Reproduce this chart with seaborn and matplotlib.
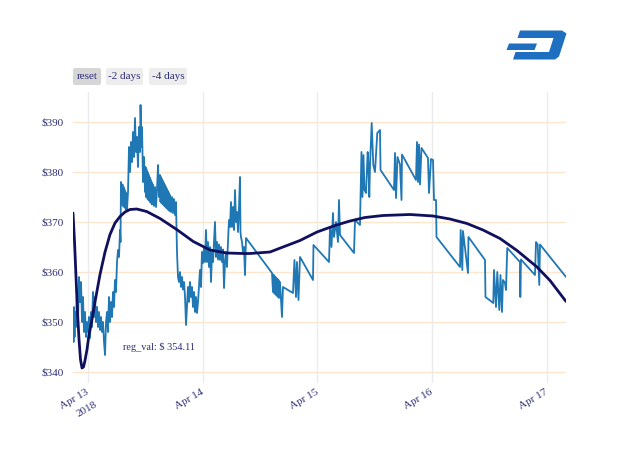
import numpy as np
import pandas as pd
import matplotlib
matplotlib.use("Agg")
import matplotlib.pyplot as plt
from matplotlib.patches import Polygon, FancyBboxPatch
import seaborn as sns

# ---------------- data ----------------
base_date = "2018-04-13"
# hours since 2018-04-13 00:00, DASH price (USD)
price_hours = [
    -3.14, -3.03, -2.93, -2.82, -2.72, -2.51, -2.30, -2.09, -1.88, -1.67,
    -1.46, -1.26, -1.05, -0.84, -0.63, -0.42, -0.21, 0.00, 0.21, 0.42,
    0.63, 0.84, 1.05, 1.26, 1.46, 1.67, 1.88, 2.09, 2.30, 2.51,
    2.72, 2.93, 3.14, 3.35, 3.56, 3.77, 3.98, 4.18, 4.39, 4.60,
    4.81, 5.02, 5.23, 5.44, 5.65, 5.86, 6.07, 6.28, 6.49, 6.70,
    6.80, 6.90, 7.11, 7.22, 7.32, 7.43, 7.53, 7.64, 7.74, 7.85,
    7.95, 8.06, 8.16, 8.37, 8.58, 8.79, 9.00, 9.21, 9.42, 9.63,
    9.83, 10.04, 10.25, 10.46, 10.67, 10.88, 10.99, 11.20, 11.30, 11.51,
    11.72, 11.93, 12.03, 12.14, 12.24, 12.35, 12.45, 12.55, 12.66, 12.76,
    12.87, 12.97, 13.08, 13.18, 13.29, 13.39, 13.60, 13.81, 14.02, 14.23,
    14.44, 14.65, 14.86, 15.07, 15.17, 15.28, 15.38, 15.49, 15.59, 15.69,
    15.80, 15.90, 16.01, 16.11, 16.22, 16.32, 16.43, 16.53, 16.64, 16.74,
    16.85, 16.95, 17.05, 17.16, 17.37, 17.58, 17.78, 17.99, 18.20, 18.41,
    18.62, 18.83, 19.04, 19.25, 19.46, 19.67, 19.88, 20.09, 20.30, 20.51,
    20.71, 20.92, 21.13, 21.34, 21.55, 21.76, 21.97, 22.18, 22.39, 22.60,
    22.81, 23.02, 23.22, 23.43, 23.64, 23.85, 24.06, 24.27, 24.48, 24.69,
    24.90, 25.11, 25.32, 25.53, 25.74, 25.95, 26.16, 26.36, 26.57, 26.78,
    26.99, 27.20, 27.41, 27.62, 27.83, 28.04, 28.25, 28.46, 28.67, 28.88,
    29.08, 29.29, 29.50, 29.71, 29.92, 30.13, 30.34, 30.55, 30.76, 30.97,
    31.18, 31.39, 31.60, 31.80, 31.91, 32.01, 32.22, 32.43, 32.64, 32.85,
    33.06, 38.50, 38.71, 38.81, 38.92, 39.02, 39.13, 39.23, 39.34, 39.44,
    39.55, 39.65, 39.76, 39.86, 39.97, 40.17, 40.38, 40.59, 40.80, 42.89,
    43.20, 43.52, 43.73, 44.04, 44.36, 47.08, 47.18, 50.43, 50.64, 50.95,
    51.26, 51.47, 51.89, 52.31, 52.52, 52.73, 55.66, 55.87, 56.91, 57.22,
    57.43, 57.64, 57.85, 58.17, 58.52, 58.69, 58.86, 59.01, 59.36, 59.70,
    60.05, 60.53, 61.10, 61.21, 64.03, 64.24, 64.45, 64.76, 65.28, 65.60,
    65.70, 68.63, 68.84, 69.05, 69.26, 69.47, 69.78, 71.14, 71.35, 71.77,
    72.19, 72.40, 72.82, 72.92, 77.84, 77.98, 78.32, 78.46, 79.51, 79.61,
    83.07, 83.17, 84.80, 84.95, 85.37, 85.64, 86.06, 86.31, 86.62, 86.83,
    87.25, 87.46, 87.73, 90.39, 90.46, 90.60, 93.53, 93.74, 94.09, 94.43,
    94.58, 100.02,
]
price_values = [
    351, 346, 353, 347, 352, 349, 356, 350, 359, 354,
    358, 350, 355, 348, 352, 347, 350, 348, 351, 346.8,
    352, 349, 356, 351, 355, 350, 353, 349, 352, 348.4,
    351, 348, 350, 346, 343.4, 350, 352, 348, 355, 350,
    354, 351, 356, 353, 358.4, 356, 362, 364.4, 363, 368.4,
    366, 378, 373.5, 377.5, 373.2, 377, 373, 376.5, 372.8, 376,
    372.5, 375.5, 372.4, 376, 385, 380, 386, 382, 388, 383,
    390.8, 384, 387, 381, 389, 384, 393.4, 385, 389, 378,
    383, 376, 381, 375, 380.5, 374.8, 380, 374.5, 379.5, 374.3,
    379, 374, 378.5, 373.8, 378, 373.5, 377.5, 373.2, 377, 373,
    376.5, 381.4, 375, 379.4, 374, 379, 373.8, 378.6, 373.6, 378.2,
    373.4, 377.8, 373.2, 377.4, 373, 377, 372.8, 376.6, 372.6, 376.2,
    372.4, 375.8, 372.2, 375.4, 372, 375, 371.8, 374.6, 371.4, 374,
    364, 359, 358, 360, 357, 359, 356.5, 358, 355, 349.4,
    353, 357, 354, 358, 355, 357, 353, 356, 352, 355,
    351.8, 354, 357, 360.4, 357, 364, 361.8, 365, 362, 368.4,
    362, 366, 361, 365, 358, 364, 362, 366, 370, 363,
    366, 362.5, 365.5, 362.4, 365, 362, 364.5, 356.8, 362, 364,
    361, 366, 370.4, 369, 374, 369, 373, 368.4, 376.4, 370,
    372, 368, 373, 379, 368, 367, 366, 364, 365, 359.4,
    366.8, 359.8, 356, 359.5, 355.8, 359.2, 355.6, 359, 355.4, 358.8,
    355.2, 358.6, 355, 358.4, 354.8, 358, 354.5, 351, 357, 355.8,
    362.4, 355, 362, 354.4, 363, 358.4, 365.4, 362, 369, 365,
    371.8, 367, 370, 366, 374.4, 367.4, 363.8, 370.4, 369.4, 384,
    375, 383.4, 376.4, 375.8, 384, 381, 375, 381.4, 389.8, 381.4,
    380, 387.8, 388.4, 380.4, 376.4, 383.8, 374.8, 383, 381.5, 374.4,
    383.5, 378.4, 386, 378, 385.5, 377.5, 384.8, 382.8, 375.8, 382.6,
    382.4, 374.4, 374.4, 367, 361, 368.4, 360.4, 368.2, 359.8, 367,
    362.4, 355, 353.8, 360.4, 353, 360, 352.4, 359.4, 352, 358.4,
    357.8, 356.4, 364.8, 362, 355, 362.5, 359.4, 366, 365.5, 357.4,
    365.5, 359,
]
# polynomial regression curve
reg_hours = [
    -3.14, -2.82, -2.51, -2.20, -1.88, -1.57, -1.26, -0.94, -0.63, -0.21,
    0.21, 0.73, 1.46, 2.51, 3.56, 4.60, 5.65, 6.70, 7.74, 8.79,
    10.19, 12.28, 15.07, 18.56, 22.03, 25.53, 29.02, 32.50, 33.90, 38.08,
    40.80, 44.36, 47.92, 51.68, 54.82, 57.96, 61.73, 67.38, 72.19, 75.74,
    79.30, 82.65, 86.21, 89.76, 93.95, 96.67, 100.02,
]
reg_values = [
    371.8, 366, 359, 352, 346.5, 342.5, 340.8, 341, 342.3, 344.5,
    347.5, 350, 354, 359.5, 364, 367.5, 369.8, 371.1, 372, 372.5,
    372.6, 372.1, 370.7, 368.5, 366.1, 364.4, 363.8, 363.7, 363.7, 364.0,
    365.0, 366.3, 368.0, 369.3, 370.2, 370.9, 371.3, 371.5, 371.2, 370.6,
    369.7, 368.4, 366.7, 364.3, 361.0, 358.3, 354.11,
]
reg_label = "reg_val: $ 354.11"
y_ticks = [340, 350, 360, 370, 380, 390]
y_labels = ["$340", "$350", "$360", "$370", "$380", "$390"]
x_tick_dates = ["2018-04-13", "2018-04-14", "2018-04-15", "2018-04-16", "2018-04-17"]
x_tick_labels = ["Apr 13", "Apr 14", "Apr 15", "Apr 16", "Apr 17"]
x_year_label = "2018"
buttons = ["reset", "-2 days", "-4 days"]

# ---------------- build frames ----------------
t0 = pd.Timestamp(base_date)
price_df = pd.DataFrame({
    "time": t0 + pd.to_timedelta(price_hours, unit="h"),
    "price": price_values,
})
reg_df = pd.DataFrame({
    "time": t0 + pd.to_timedelta(reg_hours, unit="h"),
    "reg": reg_values,
})

sns.set_style("white")
plt.rcParams["font.family"] = ["Liberation Serif", "DejaVu Serif"]
text_col = "#2e2e76"

W, H = 640, 457
fig = plt.figure(figsize=(W / 100, H / 100), dpi=100)
ax = fig.add_axes([73 / W, 1 - 383 / H, (566 - 73) / W, (383 - 92) / H])

sns.lineplot(data=price_df, x="time", y="price", ax=ax, color="#1f77b4",
             linewidth=1.3, sort=False, estimator=None)
sns.lineplot(data=reg_df, x="time", y="reg", ax=ax, color="#10105e",
             linewidth=2.0, sort=False, estimator=None)

ax.set_xlim(price_df["time"].iloc[0], price_df["time"].iloc[-1])
ax.set_ylim(337.8, 396)
ax.set_yticks(y_ticks)
ax.set_yticklabels(y_labels)
tick_dates = pd.to_datetime(x_tick_dates)
ax.set_xticks(tick_dates)
ax.set_xticklabels(x_tick_labels, rotation=30, ha="right", va="center",
                   rotation_mode="anchor")
ax.tick_params(axis="both", length=0, labelsize=8, colors=text_col)
ax.tick_params(axis="y", pad=7)
ax.tick_params(axis="x", pad=6)
ax.set_xlabel("")
ax.set_ylabel("")
for s in ax.spines.values():
    s.set_visible(False)
ax.grid(False)
for yv in y_ticks:
    ax.axhline(yv, color="#fde6cc", linewidth=1.0, zorder=0)
for xd in tick_dates:
    ax.axvline(xd, color="#ebebeb", linewidth=1.0, zorder=0)

# year line under the first date tick
ax.annotate(x_year_label, xy=(tick_dates[0], 0), xycoords=("data", "axes fraction"),
            xytext=(-0.5, -19.0), textcoords="offset points", rotation=30,
            ha="center", va="center", rotation_mode="anchor",
            fontsize=8, color=text_col, annotation_clip=False)

ax.text(t0 + pd.Timedelta(hours=14.86), 345.0, reg_label, fontsize=7.4,
        color=text_col, ha="center", va="center")

# ---------------- buttons ----------------
btn_boxes = [(73, 101), (106, 143), (149, 187)]
btn_colors = ["#d6d6d6", "#ededed", "#ededed"]
for label, (x0, x1), c in zip(buttons, btn_boxes, btn_colors):
    y0, y1 = 68, 85
    p = FancyBboxPatch((x0 / W, 1 - y1 / H), (x1 - x0) / W, (y1 - y0) / H,
                       boxstyle="round,pad=0,rounding_size=0.004",
                       transform=fig.transFigure, facecolor=c,
                       edgecolor="none")
    fig.add_artist(p)
    fig.text((x0 + x1) / 2 / W, 1 - (y0 + y1) / 2 / H, label, fontsize=8,
             color=text_col, ha="center", va="center")

# ---------------- logo ----------------
def px(points):
    return [(x / W, 1 - y / H) for x, y in points]

logo_col = "#1e6fbf"
d_shape = [(520, 30.5), (562, 30.5), (566.5, 33.5), (559, 56.5), (555, 59.5),
           (513, 59.5), (515.5, 52), (549, 52), (553.5, 38), (517.5, 38)]
dash_shape = [(509, 43.5), (537, 43.5), (534.5, 50), (506.5, 50)]
for shape in (d_shape, dash_shape):
    fig.add_artist(Polygon(px(shape), closed=True, transform=fig.transFigure,
                           facecolor=logo_col, edgecolor="none"))

fig.savefig("out.png", dpi=100)
